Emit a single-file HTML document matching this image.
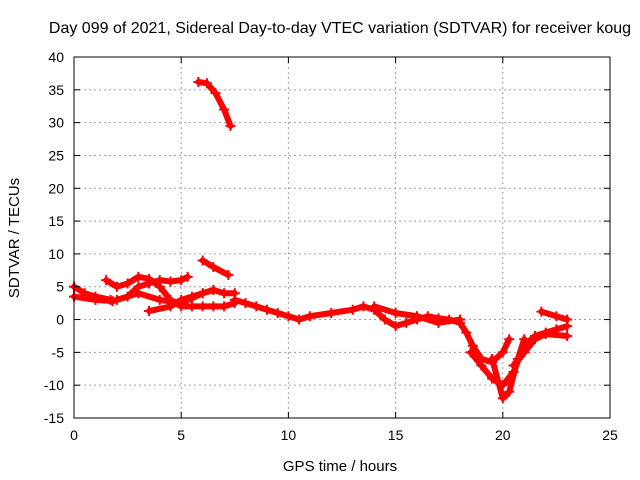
<!DOCTYPE html>
<html><head><meta charset="utf-8">
<style>
body{margin:0;background:#fff;}
svg{display:block;font-family:"Liberation Sans",sans-serif;}
</style></head>
<body>
<svg id="c" width="640" height="480">
<text x="340" y="33" font-size="16" text-anchor="middle">Day 099 of 2021, Sidereal Day-to-day VTEC variation (SDTVAR) for receiver koug</text>
<text x="340" y="471" font-size="15" text-anchor="middle">GPS time / hours</text>
<text transform="translate(19,238) rotate(-90)" font-size="15" text-anchor="middle">SDTVAR / TECUs</text>
<g id="grid"></g><g id="marks"></g><g id="axes"></g>
</svg>
<script>
const xTicks=[0,5,10,15,20,25];
const yTicks=[-15,-10,-5,0,5,10,15,20,25,30,35,40];
const tracks=[
[[5.8,36.2],[6.2,36],[6.6,34.5],[7.0,32],[7.3,29.5]],
[[6.0,9],[6.5,8],[7.2,6.8]],
[[0,5],[0.5,4],[1,3.5],[1.7,3]],
[[0,3.5],[1,3],[1.8,2.8],[2.5,3.5],[3,5],[3.5,5.5],[4,6],[4.5,5.8],[5,6],[5.3,6.5]],
[[1.5,6],[2,5],[2.5,5.5],[3,6.5],[3.5,6.2],[4,5],[4.5,3],[5,2],[5.5,2],[6,2],[6.5,2],[7,2],[7.5,2.5]],
[[2,3],[3,4],[4,3],[5,2.5],[6,4],[6.5,4.5],[7,4],[7.5,4]],
[[3.5,1.3],[4.5,2],[5,3],[5.5,3.5],[6,4],[6.5,4.5]],
[[7.5,3],[8,2.5],[8.5,2],[9,1.5],[9.5,1],[10,0.5],[10.5,0],[11,0.5],[12,1],[13,1.5],[13.5,2],[14,1.5],[14.5,0],[15,-1],[15.5,-0.5],[16,0],[16.5,0.5],[17,0.2],[17.5,0],[18,-0.5],[18.3,-2],[18.6,-4],[19,-6],[19.5,-6.5],[20,-5],[20.3,-3]],
[[14,2],[15,1],[16,0.5],[17,-0.5],[18,0]],
[[18.5,-5],[19,-7],[19.5,-9],[20,-10],[20.5,-8],[21,-4],[21.5,-2.5],[22,-2],[22.5,-1.5],[23,-1]],
[[19.5,-6],[20,-12],[20.3,-11],[20.7,-6],[21,-3]],
[[21.8,1.2],[22.5,0.5],[23,0]],
[[20.5,-7],[21,-5],[21.5,-3],[22,-2.2],[23,-2.5]]
];
const L=74,R=610,T=57,B=418;
const sx=v=>L+(v-0)/25*(R-L);
const sy=v=>B-(v+15)/55*(B-T);
const NS="http://www.w3.org/2000/svg";
function mk(t,a,p){const e=document.createElementNS(NS,t);for(const k in a)e.setAttribute(k,a[k]);p.appendChild(e);return e;}
const grid=document.getElementById('grid'),axes=document.getElementById('axes'),marks=document.getElementById('marks');
xTicks.forEach(v=>{const x=sx(v);
 if(v>0&&v<25){const g=mk('line',{x1:x,x2:x,y1:T,y2:B,stroke:'#a0a0a0','stroke-dasharray':'2,3'},grid);
 
 }
 mk('line',{x1:x,x2:x,y1:B,y2:B-6,stroke:'#000'},axes);mk('line',{x1:x,x2:x,y1:T,y2:T+6,stroke:'#000'},axes);
 const t=mk('text',{x:x,y:B+22,'font-size':14,'text-anchor':'middle'},axes);t.textContent=v;
 
 });
yTicks.forEach(v=>{const y=sy(v);
 if(v>-15&&v<40){const g=mk('line',{x1:L,x2:R,y1:y,y2:y,stroke:'#a0a0a0','stroke-dasharray':'2,3'},grid);
 
 }
 mk('line',{x1:L,x2:L+6,y1:y,y2:y,stroke:'#000'},axes);mk('line',{x1:R,x2:R-6,y1:y,y2:y,stroke:'#000'},axes);
 const t=mk('text',{x:L-10,y:y+5,'font-size':14,'text-anchor':'end'},axes);t.textContent=v;
 
 });
const fr=mk('rect',{x:L,y:T,width:R-L,height:B-T,fill:'none',stroke:'#000'},axes);


tracks.forEach((tr,i)=>{
 const pl=mk('polyline',{points:tr.map(p=>sx(p[0])+','+sy(p[1])).join(' '),fill:'none',stroke:'#f00','stroke-width':6,'stroke-linejoin':'round','stroke-linecap':'round'},marks);
 
 
 tr.forEach(p=>{const x=sx(p[0]),y=sy(p[1]);
  mk('path',{d:`M${x-5},${y}H${x+5}M${x},${y-5}V${y+5}`,stroke:'#f00','stroke-width':2},marks);});
});
</script>
</body></html>
